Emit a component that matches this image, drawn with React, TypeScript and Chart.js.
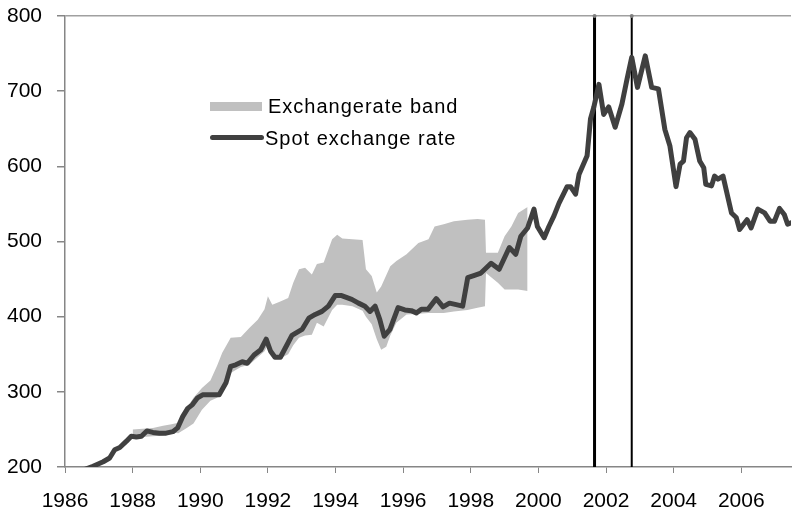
import React, { useEffect, useRef } from "react";
import { Chart, registerables } from "chart.js";

Chart.register(...registerables);

// Spot exchange rate (year as decimal, rate)
const spotYears = [
  1986.54, 1986.83, 1987.13, 1987.32, 1987.47, 1987.62, 1987.81, 1987.96, 1988.11, 1988.26,
  1988.42, 1988.6, 1988.79, 1988.99, 1989.19, 1989.33, 1989.48, 1989.63, 1989.77, 1989.92,
  1990.07, 1990.26, 1990.56, 1990.76, 1990.9, 1991.05, 1991.24, 1991.39, 1991.59, 1991.79,
  1991.95, 1992.08, 1992.21, 1992.37, 1992.57, 1992.71, 1993.01, 1993.21, 1993.4, 1993.6,
  1993.79, 1993.99, 1994.18, 1994.48, 1994.68, 1994.87, 1995.02, 1995.17, 1995.31, 1995.44,
  1995.61, 1995.85, 1996.05, 1996.24, 1996.39, 1996.54, 1996.74, 1996.98, 1997.18, 1997.37,
  1997.57, 1997.76, 1997.91, 1998.11, 1998.3, 1998.6, 1998.84, 1999.14, 1999.33, 1999.48,
  1999.68, 1999.87, 1999.97, 2000.17, 2000.31, 2000.46, 2000.61, 2000.85, 2000.95, 2001.1,
  2001.2, 2001.44, 2001.54, 2001.64, 2001.79, 2001.93, 2002.08, 2002.27, 2002.47, 2002.62,
  2002.76, 2002.93, 2003.16, 2003.35, 2003.55, 2003.74, 2003.89, 2004.07, 2004.19, 2004.29,
  2004.38, 2004.48, 2004.63, 2004.77, 2004.89, 2004.95, 2005.12, 2005.21, 2005.31, 2005.46,
  2005.71, 2005.85, 2005.95, 2006.17, 2006.29, 2006.49, 2006.69, 2006.85, 2006.98, 2007.13,
  2007.27, 2007.37, 2007.47,
];
const spotRates = [
  196, 201, 207, 212, 223, 226, 234, 241, 240, 241,
  248, 246, 245, 245, 247, 252, 267, 278, 283, 292,
  296, 296, 296, 312, 334, 336, 340, 338, 349, 356,
  370, 354, 346, 346, 363, 375, 383, 398, 403, 407,
  414, 428, 428, 423, 418, 414, 407, 414, 396, 374,
  383, 412, 409, 408, 405, 410, 410, 424, 413, 418,
  416, 414, 452, 455, 458, 471, 463, 492, 483, 507,
  518, 543, 520, 505, 520, 534, 551, 573, 573, 563,
  589, 614, 663, 679, 709, 669, 679, 652, 683, 716,
  745, 705, 747, 705, 703, 649, 627, 573, 603, 607,
  638, 645, 636, 607, 598, 576, 574, 587, 583, 587,
  538, 532, 516, 529, 518, 543, 538, 527, 527, 544,
  536, 523, 525,
];

// Exchange rate band (upper / lower edges)
const bandYears = [
  1988.0, 1988.3, 1988.6, 1988.9, 1989.15, 1989.35, 1989.6, 1989.8, 1990.05, 1990.3,
  1990.5, 1990.65, 1990.9, 1991.2, 1991.45, 1991.7, 1991.9, 1992.0, 1992.13, 1992.35,
  1992.6, 1992.75, 1992.92, 1993.1, 1993.3, 1993.45, 1993.65, 1993.9, 1994.05, 1994.2,
  1994.5, 1994.8, 1994.9, 1995.07, 1995.22, 1995.35, 1995.5, 1995.62, 1995.8, 1996.1,
  1996.45, 1996.75, 1996.93, 1997.2, 1997.5, 1997.9, 1998.2, 1998.42, 1998.45, 1998.8,
  1999.0, 1999.2, 1999.4, 1999.68,
];
const bandUpper = [
  250, 251, 252, 255, 257, 259, 278, 292, 305, 315,
  335, 352, 372, 373, 385, 396, 410, 427, 416, 420,
  425, 445, 463, 465, 456, 470, 472, 503, 509, 504,
  503, 502, 463, 454, 432, 440, 455, 467, 474, 483,
  498, 503, 520, 523, 527, 529, 530, 529, 485, 485,
  507, 520, 538, 546,
];
const bandLower = [
  238, 240, 241, 242, 246, 245, 252, 258, 276, 288,
  292, 300, 325, 333, 336, 346, 354, 362, 352, 344,
  350, 362, 372, 375, 376, 392, 387, 409, 416, 416,
  414, 408, 400, 390, 370, 356, 360, 375, 392, 403,
  404, 405, 405, 405, 407, 409, 412, 414, 458, 445,
  436, 436, 436, 434,
];

// Vertical marker lines
const markerYears = [2001.66, 2002.76];
const markerWidths = [3, 2];

const xTickYears = [1986, 1988, 1990, 1992, 1994, 1996, 1998, 2000, 2002, 2004, 2006];
const yTickValues = [200, 300, 400, 500, 600, 700, 800];
const seriesNames = ["Exchangerate band", "Spot exchange rate"];

const FONT = "'Liberation Sans', Arial, Helvetica, sans-serif";
const AXIS_GREY = "#868686";

export default function App() {
  const canvasRef = useRef<HTMLCanvasElement>(null);

  useEffect(() => {
    const canvas = canvasRef.current;
    if (!canvas) return;

    const markerSets = markerYears.map((m, i) => ({
      label: "marker" + i,
      data: [
        { x: m, y: 200 },
        { x: m, y: 800 },
      ],
      borderColor: "#000000",
      borderWidth: markerWidths[i],
      pointRadius: [0, 2],
      pointBackgroundColor: "#808080",
      pointBorderWidth: 0,
      fill: false,
      order: 1,
      clip: 4,
    }));

    const chart = new Chart(canvas, {
      type: "line",
      data: {
        datasets: [
          {
            label: seriesNames[0],
            data: bandYears.map((x, i) => ({ x, y: bandUpper[i] })),
            borderWidth: 0,
            borderColor: "rgba(0,0,0,0)",
            backgroundColor: "#c0c0c0",
            pointRadius: 0,
            fill: "+1",
            order: 2,
          },
          {
            label: "band lower",
            data: bandYears.map((x, i) => ({ x, y: bandLower[i] })),
            borderWidth: 0,
            borderColor: "rgba(0,0,0,0)",
            pointRadius: 0,
            fill: false,
            order: 2,
          },
          ...markerSets,
          {
            label: seriesNames[1],
            data: spotYears.map((x, i) => ({ x, y: spotRates[i] })),
            borderColor: "#404040",
            borderWidth: 5,
            pointRadius: 0,
            fill: false,
            borderJoinStyle: "round",
            borderCapStyle: "round",
            order: 0,
          },
        ],
      } as any,
      options: {
        animation: false,
        responsive: false,
        maintainAspectRatio: false,
        layout: { padding: { top: 16, right: 0, left: 0, bottom: 0 } },
        plugins: {
          legend: { display: false },
          tooltip: { enabled: false },
        },
        scales: {
          x: {
            type: "linear",
            min: 1986,
            max: 2007.47,
            afterBuildTicks: (s: any) => {
              s.ticks = xTickYears.map((v) => ({ value: v }));
            },
            afterFit: (s: any) => {
              s.height = 48;
              s.paddingLeft = 0;
              s.paddingRight = 0;
              s.paddingTop = 0;
              s.paddingBottom = 0;
            },
            ticks: {
              font: { family: FONT, size: 21 },
              color: "#000000",
              padding: 16,
              maxRotation: 0,
              autoSkip: false,
              callback: (v: any) => String(v),
            },
            grid: {
              drawOnChartArea: false,
              color: AXIS_GREY,
              tickColor: AXIS_GREY,
              tickLength: 6,
            },
            border: { color: AXIS_GREY, width: 1.5 },
          },
          y: {
            min: 200,
            max: 800,
            afterBuildTicks: (s: any) => {
              s.ticks = yTickValues.map((v) => ({ value: v }));
            },
            afterFit: (s: any) => {
              s.width = 65;
              s.paddingLeft = 0;
              s.paddingRight = 0;
              s.paddingTop = 0;
              s.paddingBottom = 0;
            },
            ticks: {
              font: { family: FONT, size: 21 },
              color: "#000000",
              padding: 15,
              callback: (v: any) => String(v),
            },
            grid: {
              color: (ctx: any) =>
                ctx.tick && ctx.tick.value === 800 ? "#a0a0a0" : "rgba(0,0,0,0)",
              tickColor: AXIS_GREY,
              tickLength: 8,
              lineWidth: 1.5,
            },
            border: { color: AXIS_GREY, width: 1.5 },
          },
        },
      } as any,
    });

    return () => chart.destroy();
  }, []);

  const legendText: React.CSSProperties = {
    position: "absolute",
    fontFamily: FONT,
    fontSize: "20px",
    lineHeight: "20px",
    letterSpacing: "1px",
    color: "#000",
    whiteSpace: "nowrap",
  };

  return (
    <div
      style={{
        position: "fixed",
        left: 0,
        top: 0,
        width: 795,
        height: 515,
        background: "#ffffff",
        overflow: "hidden",
      }}
    >
      <canvas ref={canvasRef} width={795} height={515} style={{ width: 795, height: 515, display: "block" }} />
      <div
        style={{
          position: "absolute",
          left: 210,
          top: 102,
          width: 52,
          height: 9,
          background: "#c0c0c0",
        }}
      />
      <div style={{ ...legendText, left: 268, top: 96 }}>{seriesNames[0]}</div>
      <div
        style={{
          position: "absolute",
          left: 210,
          top: 135,
          width: 54,
          height: 5,
          borderRadius: 2.5,
          background: "#404040",
        }}
      />
      <div style={{ ...legendText, left: 265, top: 128 }}>{seriesNames[1]}</div>
    </div>
  );
}
